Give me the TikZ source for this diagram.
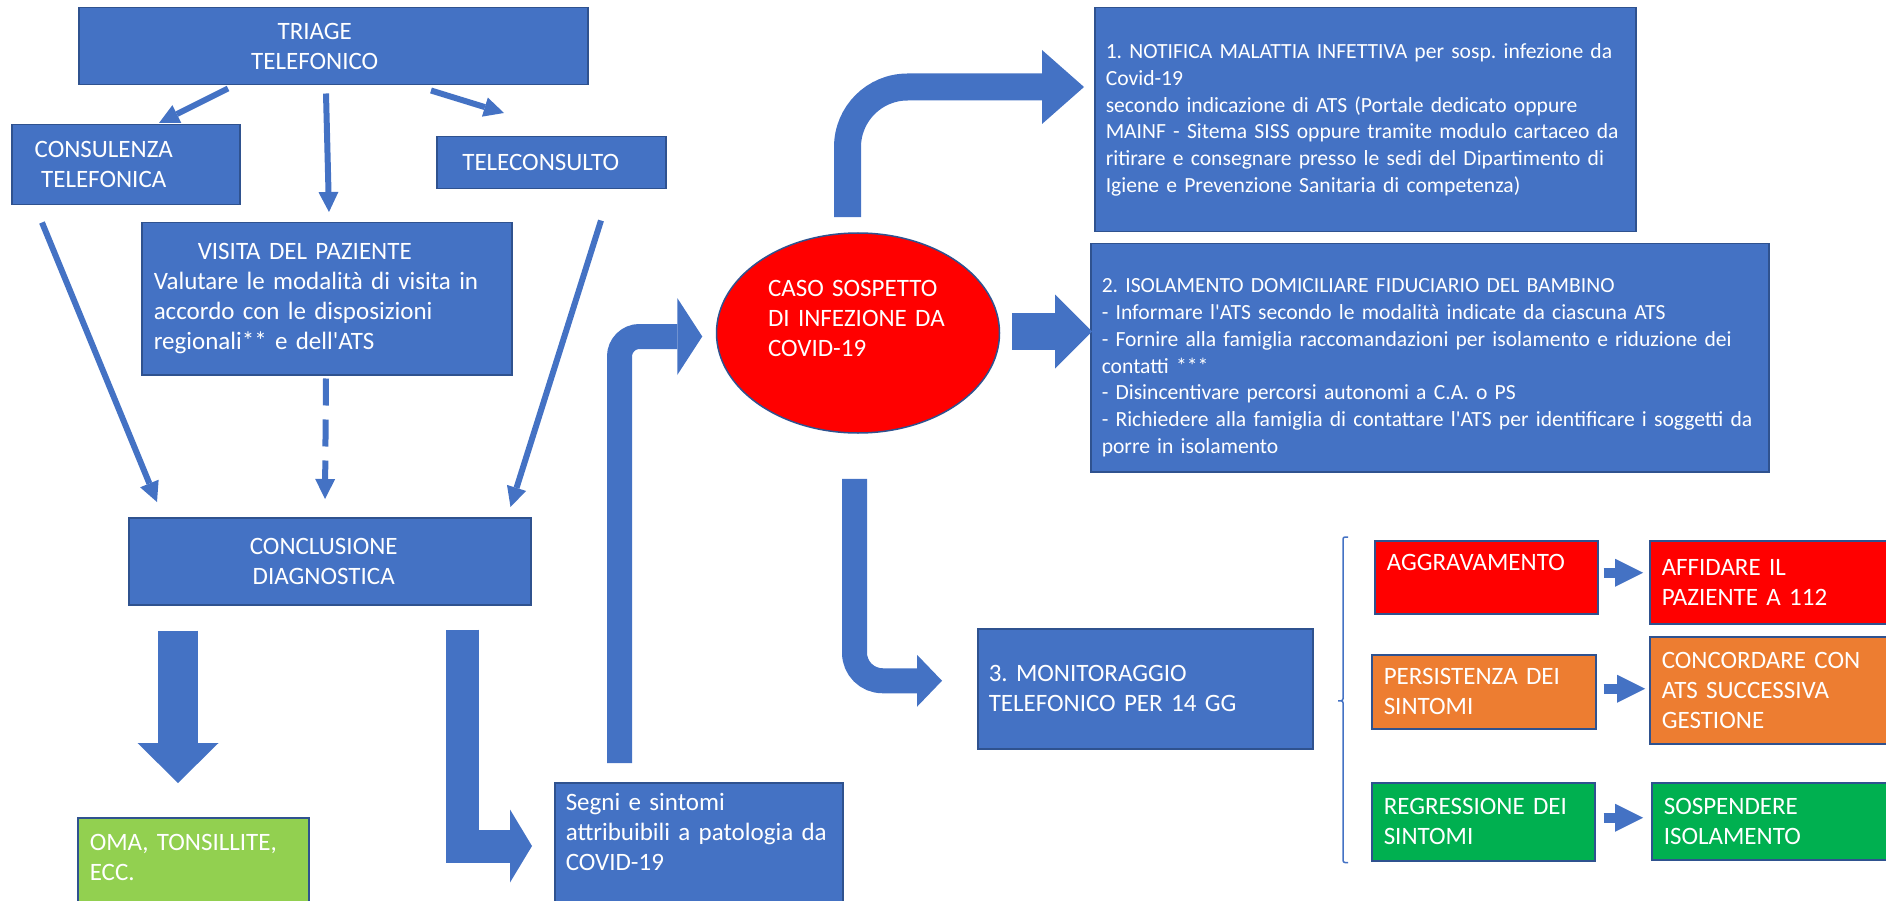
\documentclass[tikz,border=0pt]{standalone}
\usepackage{fontspec}
\setmainfont{Carlito}
\usetikzlibrary{arrows.meta,calc,shapes.geometric}
\definecolor{officeblue}{HTML}{4472C4}
\definecolor{edgeblue}{HTML}{2F528F}
\definecolor{alarmred}{HTML}{FF0000}
\definecolor{warnorange}{HTML}{ED7D31}
\definecolor{okgreen}{HTML}{00B050}
\definecolor{limegreen}{HTML}{92D050}
\newcommand{\bigtxt}{\fontsize{25}{30}\selectfont}
\newcommand{\smalltxt}{\fontsize{21.6}{26.7}\selectfont}
\newcommand{\centred}[2]{\makebox[#1][c]{#2}}
\newcommand{\apos}{\textquotesingle}
\frenchspacing

\begin{document}
\begin{tikzpicture}[
    x=1pt, y=-1pt,
    font=\bigtxt,
    box/.style={draw=edgeblue, line width=1.5pt, fill=officeblue, text=white,
      anchor=north west, align=left, inner ysep=0pt, inner xsep=12pt},
    caso/.style={ellipse, draw=edgeblue, line width=1.5pt, fill=alarmred, text=white,
      minimum width=283pt, minimum height=200pt, text width=180pt, align=left, inner sep=0pt},
    thinarrow/.style={-{Triangle[length=20pt,width=20pt,line width=0pt]}, line width=6pt, draw=officeblue},
    blockarrow/.style={draw=officeblue, line width=#1},
    smallarrow/.style={-{Triangle[length=28pt,width=28pt,line width=0pt]}, line width=10pt, draw=officeblue},
    bracket/.style={draw=officeblue, line width=1.5pt, rounded corners=2pt}
  ]
    \useasboundingbox (0,0) rectangle (1886,901);

    \node[box, inner xsep=0pt, text width=509pt, minimum height=77pt] (triage) at (78,7)
      {\centred{472pt}{TRIAGE}\\\centred{472pt}{TELEFONICO}};
    \node[box, inner xsep=0pt, text width=228pt, minimum height=80pt] (consul) at (11,124)
      {\centred{184pt}{CONSULENZA}\\\centred{184pt}{TELEFONICA}};
    \node[box, inner xsep=0pt, text width=229pt, minimum height=52pt] (telec) at (436,136)
      {\centred{208pt}{TELECONSULTO}};
    \node[box, text width=346pt, minimum height=152pt] (visita) at (141,222)
      {\centred{302pt}{VISITA DEL PAZIENTE}\\Valutare le modalità di visita in\\accordo con le disposizioni\\regionali** e dell\apos ATS};
    \node[box, inner xsep=0pt, text width=402pt, minimum height=87pt] (concl) at (128,517)
      {\centred{390pt}{CONCLUSIONE}\\\centred{390pt}{DIAGNOSTICA}};
    \node[box, fill=limegreen, text width=207pt, minimum height=90pt] (oma) at (77,817)
      {OMA, TONSILLITE,\\ECC.\rule[-11pt]{0pt}{0pt}};
    \node[box, inner xsep=11pt, text width=266pt, minimum height=125pt] (segni) at (554,782)
      {Segni e sintomi\\attribuibili a patologia da\\COVID-19\rule[-26pt]{0pt}{0pt}};
    \node[caso] (caso) at (858,333) {CASO SOSPETTO\\DI INFEZIONE DA\\COVID-19\\\mbox{}};
    \node[box, font=\smalltxt, inner xsep=11pt, text width=519pt, minimum height=224pt] (notifica) at (1094,7)
      {1. NOTIFICA MALATTIA INFETTIVA per sosp. infezione da\\Covid-19\\secondo indicazione di ATS (Portale dedicato oppure\\MAINF - Sitema SISS oppure tramite modulo cartaceo da\\ritirare e consegnare presso le sedi del Dipartimento di\\Igiene e Prevenzione Sanitaria di competenza)};
    \node[box, font=\smalltxt, inner xsep=11pt, text width=656pt, minimum height=228pt] (isolam) at (1090,243)
      {\rule{0pt}{34pt}2. ISOLAMENTO DOMICILIARE FIDUCIARIO DEL BAMBINO\\- Informare l\apos ATS secondo le modalità indicate da ciascuna ATS\\- Fornire alla famiglia raccomandazioni per isolamento e riduzione dei\\contatti ***\\- Disincentivare percorsi autonomi a C.A. o PS\\- Richiedere alla famiglia di contattare l\apos ATS per identificare i soggetti da\\porre in isolamento};
    \node[box, inner xsep=11pt, text width=313pt, minimum height=120pt] (monitor) at (977,628)
      {3. MONITORAGGIO\\TELEFONICO PER 14 GG};
    \node[box, fill=alarmred, text width=199pt, minimum height=73pt] (aggrav) at (1374,540)
      {AGGRAVAMENTO\\\mbox{}};
    \node[box, fill=alarmred, text width=221pt, minimum height=83pt] (affida) at (1649,540)
      {AFFIDARE IL\\PAZIENTE A 112};
    \node[box, fill=warnorange, text width=200pt, minimum height=74pt] (persist) at (1371,654)
      {PERSISTENZA DEI\\SINTOMI};
    \node[box, fill=warnorange, text width=221pt, minimum height=107pt] (concorda) at (1649,636)
      {CONCORDARE CON\\ATS SUCCESSIVA\\GESTIONE};
    \node[box, fill=okgreen, text width=199pt, minimum height=78pt] (regress) at (1371,782)
      {REGRESSIONE DEI\\SINTOMI};
    \node[box, fill=okgreen, text width=219pt, minimum height=77pt] (sospendi) at (1651,782)
      {SOSPENDERE\\ISOLAMENTO};

    \draw[thinarrow] ($(triage.south west)+(150,3)$) -- ($(consul.north west)+(148,-1)$);
    \draw[thinarrow] ($(triage.south west)+(248,8)$) -- ($(visita.north west)+(188,-10)$);
    \draw[thinarrow] ($(triage.south west)+(353,5)$) -- ($(telec.north west)+(68,-23)$);
    \draw[thinarrow] ($(consul.south west)+(31,17)$) -- ($(concl.north west)+(29,-15)$);
    \draw[thinarrow, dash pattern=on 27pt off 14pt] ($(visita.south west)+(185,3)$) -- ($(concl.north west)+(197,-18)$);
    \draw[thinarrow] ($(telec.south west)+(165,31)$) -- ($(concl.north east)+(-21,-10)$);

    \draw[blockarrow=40pt, -{Triangle[length=40pt,width=81pt,line width=0pt]}]
      ($(concl.south west)+(50,25)$) -- ($(oma.north west)+(101,-34)$);
    \draw[blockarrow=33pt, -{Triangle[length=22pt,width=73pt,line width=0pt]}]
      ($(concl.south west)+(334.5,24)$) |- ($(segni.north west)+(-22,64)$);
    \draw[blockarrow=25pt, rounded corners=20pt, -{Triangle[length=25pt,width=77pt,line width=0pt]}]
      ($(segni.north west)+(65.5,-19)$) |- ($(caso.west)+(-13.5,3.5)$);
    \draw[blockarrow=27pt, rounded corners=60pt, -{Triangle[length=42pt,width=74pt,line width=0pt]}]
      ($(caso.north)+(-10.5,-15)$) |- ($(notifica.north west)+(-10,80)$);
    \draw[blockarrow=37pt, -{Triangle[length=37pt,width=74pt,line width=0pt]}]
      ($(caso.east)+(11.5,-1.5)$) -- ($(isolam.north west)+(2,88.5)$);
    \draw[blockarrow=25pt, rounded corners=28pt, -{Triangle[length=25pt,width=52pt,line width=0pt]}]
      ($(caso.south)+(-3.5,45)$) |- ($(monitor.west)+(-35,-8)$);

    \draw[smallarrow] ($(aggrav.east)+(5,-4.5)$) -- ($(affida.west)+(-6,-9.5)$);
    \draw[smallarrow] ($(persist.east)+(7,-3)$) -- ($(concorda.west)+(-4,-1.5)$);
    \draw[smallarrow] ($(regress.east)+(8,-4)$) -- ($(sospendi.west)+(-8,-3.5)$);

    \draw[bracket] ($(aggrav.north west)+(-26,-3)$) -| ($(aggrav.north west)!0.5!(regress.south west)+(-29.5,0)$)
      -- ++(-6,0) -- ++(6,0) |- ($(regress.south west)+(-23,1)$);
  \end{tikzpicture}
\end{document}
